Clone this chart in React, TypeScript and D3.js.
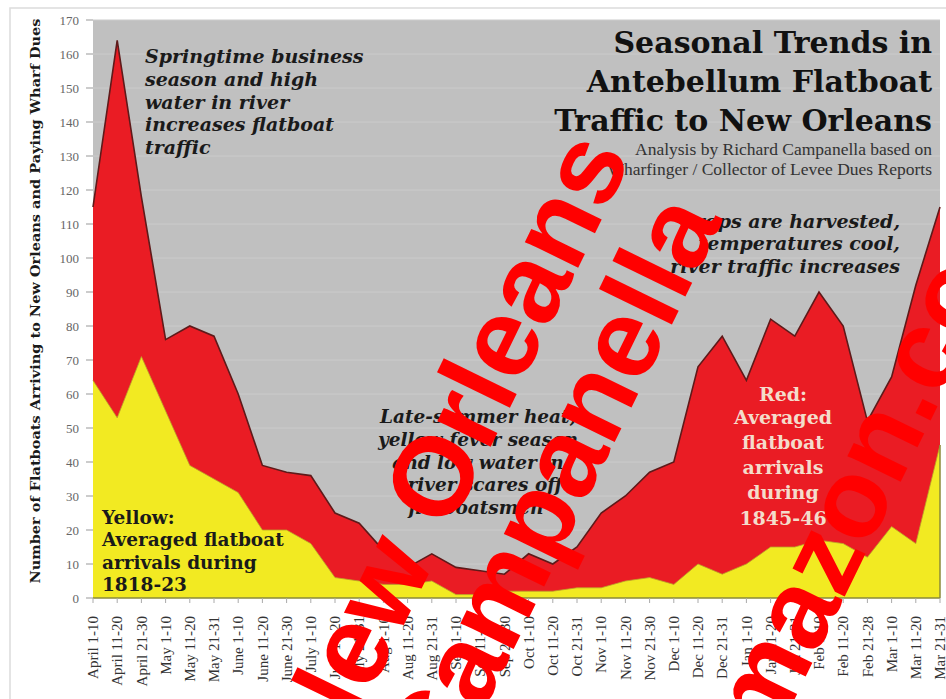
import React, { useEffect } from 'react';
import * as d3 from 'd3';

// 10-day periods, April through March
const periods = [
  'April 1-10', 'April 11-20', 'April 21-30', 'May 1-10', 'May 11-20', 'May 21-31',
  'June 1-10', 'June 11-20', 'June 21-30', 'July 1-10', 'July 11-20', 'July 21-31',
  'Aug 1-10', 'Aug 11-20', 'Aug 21-31', 'Sep 1-10', 'Sep 11-20', 'Sep 21-30',
  'Oct 1-10', 'Oct 11-20', 'Oct 21-31', 'Nov 1-10', 'Nov 11-20', 'Nov 21-30',
  'Dec 1-10', 'Dec 11-20', 'Dec 21-31', 'Jan 1-10', 'Jan 11-20', 'Jan 21-31',
  'Feb 1-10', 'Feb 11-20', 'Feb 21-28', 'Mar 1-10', 'Mar 11-20', 'Mar 21-31',
];

// Red: averaged arrivals 1845-46
const red1845 = [
  115, 164, 118, 76, 80, 77, 60, 39, 37, 36, 25, 22,
  14, 9, 13, 9, 8, 7, 13, 10, 15, 25, 30, 37,
  40, 68, 77, 64, 82, 77, 90, 80, 52, 65, 92, 115,
];

// Yellow: averaged arrivals 1818-23
const yellow1818 = [
  64, 53, 71, 55, 39, 35, 31, 20, 20, 16, 6, 5,
  4, 4, 5, 1, 1, 2, 2, 2, 3, 3, 5, 6,
  4, 10, 7, 10, 15, 15, 17, 16, 12, 21, 16, 45,
];

const yTicks = d3.range(0, 171, 10);

const W = 946;
const H = 699;
const plot = { left: 93, right: 940, top: 20, bottom: 598 };

const serif = '"DejaVu Serif", serif';
const times = '"Liberation Serif", serif';

export default function App() {
  useEffect(() => {
    document.body.style.margin = '0';
  }, []);

  const x = d3.scalePoint<string>().domain(periods).range([plot.left, plot.right]);
  const y = d3.scaleLinear().domain([0, 170]).range([plot.bottom, plot.top]);

  const area = d3
    .area<number>()
    .x((_, i) => x(periods[i]) as number)
    .y0(y(0))
    .y1((d) => y(d));

  const line = d3
    .line<number>()
    .x((_, i) => x(periods[i]) as number)
    .y((d) => y(d));

  return (
    <svg width={W} height={H} style={{ display: 'block', background: '#fff' }}>
      <rect x={10} y={8} width={W} height={H} fill="none" stroke="#dcdcdc" strokeWidth={1.5} />

      {/* plot background */}
      <rect x={plot.left} y={plot.top} width={plot.right - plot.left} height={plot.bottom - plot.top} fill="#c0c0c0" />
      {yTicks.slice(1).map((t) => (
        <line key={t} x1={plot.left} x2={plot.right} y1={y(t)} y2={y(t)} stroke="#cbcbcb" strokeWidth={1} />
      ))}

      {/* areas */}
      <path d={area(red1845) ?? ''} fill="#ea1c24" />
      <path d={line(red1845) ?? ''} fill="none" stroke="#5e1a1a" strokeWidth={1.6} />
      <path d={area(yellow1818) ?? ''} fill="#f2ea22" />
      <path d={line(yellow1818) ?? ''} fill="none" stroke="#b9a12a" strokeWidth={0.8} />
      <line x1={plot.left} x2={plot.right} y1={plot.bottom} y2={plot.bottom} stroke="#8a8a3a" strokeWidth={1.5} />
      <line x1={plot.right} x2={plot.right} y1={y(yellow1818[yellow1818.length - 1])} y2={plot.bottom} stroke="#8a8a3a" strokeWidth={1.5} />

      {/* y axis */}
      {yTicks.map((t) => (
        <g key={t}>
          <line x1={86} x2={plot.left} y1={y(t)} y2={y(t)} stroke="#999" />
          <text x={79} y={y(t)} dy="0.35em" textAnchor="end" fontFamily={times} fontSize={13} fill="#666">
            {t}
          </text>
        </g>
      ))}
      <text
        transform={`translate(40,${(plot.top + plot.bottom) / 2 - 8}) rotate(-90)`}
        textAnchor="middle"
        fontFamily={serif}
        fontWeight="bold"
        fontSize={13.5}
        fill="#1a1a1a"
        textLength={565}
        lengthAdjust="spacingAndGlyphs"
      >
        Number of Flatboats Arriving to New Orleans and Paying Wharf Dues
      </text>

      {/* x axis */}
      {periods.map((p) => (
        <g key={p}>
          <line x1={x(p)} x2={x(p)} y1={plot.bottom} y2={plot.bottom + 5} stroke="#aaa" />
          <text
            transform={`translate(${x(p)},616) rotate(-90)`}
            dy="0.35em"
            textAnchor="end"
            fontFamily={times}
            fontSize={15}
            fill="#333"
          >
            {p}
          </text>
        </g>
      ))}

      {/* title */}
      <g fontFamily={serif} fontWeight="bold" fontSize={30} fill="#111" textAnchor="end">
        <text x={932} y={53}>Seasonal Trends in</text>
        <text x={932} y={92}>Antebellum Flatboat</text>
        <text x={932} y={131}>Traffic to New Orleans</text>
      </g>
      <g fontFamily={times} fontSize={17.5} fill="#333" textAnchor="end">
        <text x={932} y={155}>Analysis by Richard Campanella based on</text>
        <text x={932} y={175}>Wharfinger / Collector of Levee Dues Reports</text>
      </g>

      {/* annotations */}
      <g fontFamily={serif} fontWeight="bold" fontStyle="italic" fontSize={19} fill="#1a1a1a">
        <text x={145} y={63}>Springtime business</text>
        <text x={145} y={86}>season and high</text>
        <text x={145} y={109}>water in river</text>
        <text x={145} y={131}>increases flatboat</text>
        <text x={145} y={154}>traffic</text>
      </g>
      <g fontFamily={serif} fontWeight="bold" fontStyle="italic" fontSize={19} fill="#1a1a1a" textAnchor="end">
        <text x={900} y={228}>Crops are harvested,</text>
        <text x={900} y={250}>temperatures cool,</text>
        <text x={900} y={273}>river traffic increases</text>
      </g>
      <g fontFamily={serif} fontWeight="bold" fontStyle="italic" fontSize={18.5} fill="#1a1a1a" textAnchor="middle">
        <text x={478} y={423}>Late-summer heat,</text>
        <text x={478} y={446}>yellow fever season</text>
        <text x={478} y={469}>and low water in</text>
        <text x={485} y={491}>river scares off</text>
        <text x={476} y={514}>flatboatsmen</text>
      </g>
      <g fontFamily={serif} fontWeight="bold" fontSize={18.5} fill="#1a1a1a">
        <text x={102} y={524}>Yellow:</text>
        <text x={102} y={546}>Averaged flatboat</text>
        <text x={102} y={569}>arrivals during</text>
        <text x={102} y={591}>1818-23</text>
      </g>
      <g fontFamily={serif} fontWeight="bold" fontSize={19} fill="#f4dccb" textAnchor="middle">
        <text x={783} y={401}>Red:</text>
        <text x={783} y={424}>Averaged</text>
        <text x={783} y={449}>flatboat</text>
        <text x={783} y={474}>arrivals</text>
        <text x={783} y={499}>during</text>
        <text x={783} y={525}>1845-46</text>
      </g>

      {/* watermark */}
      <g fontFamily='"Liberation Sans", Arial, sans-serif' fontWeight="bold" fontSize={112} fill="#ff0000" textAnchor="middle">
        <text transform="translate(448,445) rotate(-64)" dy="0.35em">New Orleans</text>
        <text transform="translate(550,485) rotate(-64)" dy="0.35em">Campanella</text>
        <text transform="translate(858,480) rotate(-64)" dy="0.35em">amazon.com</text>
      </g>
    </svg>
  );
}
